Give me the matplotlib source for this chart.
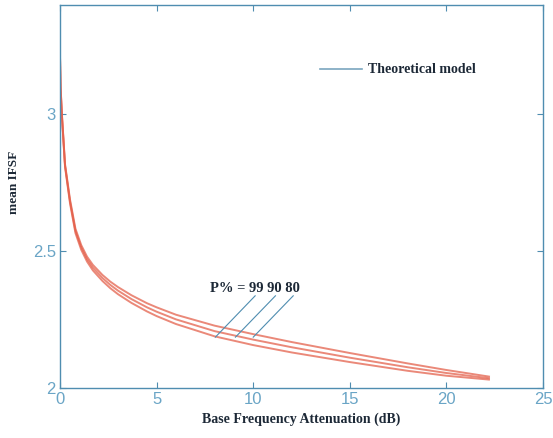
import matplotlib
matplotlib.use("Agg")
import matplotlib.pyplot as plt
from matplotlib.lines import Line2D

# attenuation points (dB) and mean IFSF for the three P% curves
att = [0, 0.03, 0.1, 0.26, 0.52, 0.8, 1.1, 1.4, 1.7, 2.2, 2.6, 3.0, 3.7, 4.5,
       5, 6, 8, 10, 12, 15, 18, 20, 22.2]
ifsf_99 = [3.21, 3.10, 3.00, 2.818, 2.688, 2.582, 2.522, 2.480, 2.450, 2.413, 2.389, 2.369,
           2.339, 2.310, 2.295, 2.268, 2.228, 2.197, 2.168, 2.128, 2.090, 2.066, 2.042]
ifsf_90 = [3.21, 3.10, 2.995, 2.813, 2.681, 2.574, 2.514, 2.471, 2.440, 2.402, 2.377, 2.356,
           2.325, 2.295, 2.279, 2.251, 2.208, 2.177, 2.149, 2.111, 2.076, 2.055, 2.036]
ifsf_80 = [3.21, 3.09, 2.99, 2.808, 2.674, 2.566, 2.505, 2.462, 2.430, 2.391, 2.365, 2.343,
           2.311, 2.280, 2.263, 2.234, 2.189, 2.157, 2.130, 2.095, 2.063, 2.045, 2.031]
p_labels = ["99", "90", "80"]

spine_col = "#4f8db0"
tick_col = "#6aa5c6"
text_col = "#1c2836"
curve_col = "#e4614c"

fig = plt.figure(figsize=(5.53, 4.38), dpi=100)
ax = fig.add_axes([0.1085, 0.114, 0.8735, 0.875])

for y in (ifsf_99, ifsf_90, ifsf_80):
    ax.plot(att, y, color=curve_col, linewidth=1.4, alpha=0.75)

# annotation pointing at the three curves
ax.text(10.1, 2.362, "P% = " + " ".join(p_labels), fontsize=10.5, fontweight="bold",
        family="Liberation Serif", color=text_col, ha="center", va="center")
starts = [10.1, 11.15, 12.07]
ends = [8.04, 9.08, 10.0]
for xs, xe in zip(starts, ends):
    ax.plot([xs, xe], [2.337, 2.186], color=spine_col, linewidth=0.8)

handle = Line2D([], [], color="#7aa6bf", linewidth=1.2)
ax.legend([handle], ["Theoretical model"], loc="center left", bbox_to_anchor=(0.538, 0.83),
          frameon=False, handlelength=3.0, handletextpad=0.5, borderpad=0, borderaxespad=0,
          prop={"family": "Liberation Serif", "weight": "bold", "size": 10})
for t in ax.get_legend().get_texts():
    t.set_color(text_col)

ax.set_xlim(0, 25)
ax.set_ylim(2, 3.4)
ax.set_xticks([0, 5, 10, 15, 20, 25])
ax.set_yticks([2, 2.5, 3])
ax.set_yticklabels(["2", "2.5", "3"])

for s in ax.spines.values():
    s.set_color(spine_col)
    s.set_linewidth(1.0)
ax.tick_params(direction="in", top=True, right=True, length=4, color=spine_col,
               labelcolor=tick_col, labelsize=12, pad=3)
for lab in ax.get_xticklabels() + ax.get_yticklabels():
    lab.set_family("Liberation Sans")

ax.set_xlabel("Base Frequency Attenuation (dB)", fontsize=10, fontweight="bold",
              family="Liberation Serif", color=text_col, labelpad=4)
ax.set_ylabel("mean IFSF", fontsize=9.5, fontweight="bold",
              family="Liberation Serif", color=text_col)
ax.yaxis.set_label_coords(-0.082, 0.538)

fig.savefig("out.png", dpi=100)
